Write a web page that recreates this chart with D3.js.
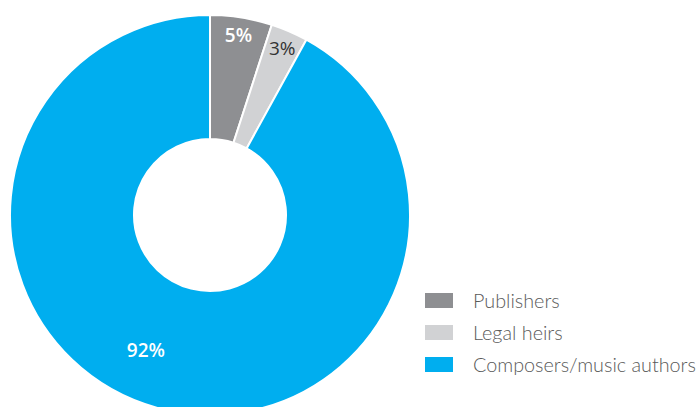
<!DOCTYPE html>
<html><head><meta charset="utf-8">
<script src="https://cdn.jsdelivr.net/npm/d3@7"></script>
<style>body{margin:0;background:#fff}svg{display:block}</style>
</head><body>
<script>
const categories = ["Publishers", "Legal heirs", "Composers/music authors"];
const values = [5, 3, 92];
const valueLabels = ["5%", "3%", "92%"];
const colors = ["#8e8f92", "#d1d2d4", "#00aeef"];
const labelColors = ["#ffffff", "#333333", "#ffffff"];

const W = 699, H = 407;
const svg = d3.select("body").append("svg").attr("width", W).attr("height", H);
const cx = 210, cy = 215, R = 200, r = 76;
const g = svg.append("g").attr("transform", `translate(${cx},${cy})`);
const pie = d3.pie().sort(null).value(d => d.v);
const data = categories.map((c, i) => ({c, v: values[i], i}));
const arcs = pie(data);
const arc = d3.arc().innerRadius(r).outerRadius(R);
g.selectAll("path").data(arcs).join("path")
  .attr("d", arc).attr("fill", d => colors[d.data.i])
  .attr("stroke", "#fff").attr("stroke-width", 2).attr("stroke-linejoin", "bevel");

const labelR = [182, 182, 150];
const angleShift = [0, 0, 0.19];
g.selectAll("text.v").data(arcs).join("text")
  .attr("class", "v")
  .attr("transform", d => {
    const a = (d.startAngle + d.endAngle) / 2 + angleShift[d.data.i];
    const rr = labelR[d.data.i];
    return `translate(${Math.sin(a) * rr},${-Math.cos(a) * rr})`;
  })
  .attr("text-anchor", "middle").attr("dy", "0.36em")
  .attr("font-family", "'Open Sans', sans-serif").attr("font-size", 19)
  .attr("font-weight", d => d.data.i === 1 ? 400 : 600)
  .attr("fill", d => labelColors[d.data.i])
  .text(d => valueLabels[d.data.i]);

const lg = svg.append("g").attr("transform", "translate(425,293)");
const item = lg.selectAll("g").data(categories).join("g")
  .attr("transform", (d, i) => `translate(0,${i * 32})`);
item.append("rect").attr("width", 28).attr("height", 15).attr("fill", (d, i) => colors[i]);
item.append("text").attr("x", 48).attr("y", 7.5).attr("dy", "0.36em")
  .attr("font-family", "Lato, sans-serif").attr("font-weight", 300)
  .attr("font-size", 19.8).attr("fill", "#5a5a5a")
  .text(d => d);
</script>
</body></html>
